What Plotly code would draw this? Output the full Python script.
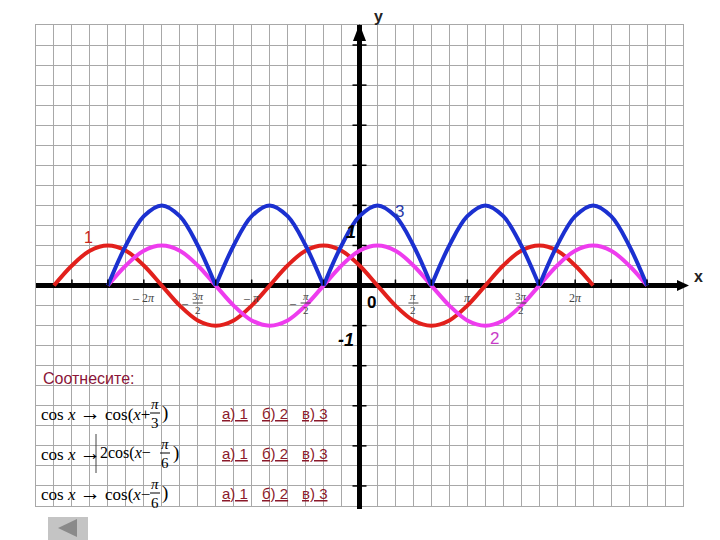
import plotly.graph_objects as go

# x positions in units of pi/6
red_x = [-17, -16, -15, -14, -13, -12, -11, -10, -9, -8, -7, -6, -5, -4, -3, -2,
         -1, 0, 1, 2, 3, 4, 5, 6, 7, 8, 9, 10, 11, 12, 13]
red_y = [0, 0.5, 0.87, 1, 0.87, 0.5, 0, -0.5, -0.87, -1, -0.87, -0.5,
         0, 0.5, 0.87, 1, 0.87, 0.5, 0, -0.5, -0.87, -1, -0.87, -0.5,
         0, 0.5, 0.87, 1, 0.87, 0.5, 0]

mag_x = [-14, -13, -12, -11, -10, -9, -8, -7, -6, -5, -4, -3, -2, -1, 0, 1,
         2, 3, 4, 5, 6, 7, 8, 9, 10, 11, 12, 13, 14, 15, 16]
mag_y = [0, 0.5, 0.87, 1, 0.87, 0.5, 0, -0.5, -0.87, -1, -0.87, -0.5,
         0, 0.5, 0.87, 1, 0.87, 0.5, 0, -0.5, -0.87, -1, -0.87, -0.5,
         0, 0.5, 0.87, 1, 0.87, 0.5, 0]

blue_x = mag_x
blue_y = [0, 1, 1.73, 2, 1.73, 1, 0, 1, 1.73, 2, 1.73, 1,
          0, 1, 1.73, 2, 1.73, 1, 0, 1, 1.73, 2, 1.73, 1,
          0, 1, 1.73, 2, 1.73, 1, 0]

# axis tick labels: (position, minus, numerator, denominator)
xlabels = [(-12, True, "2<i>π</i>", None), (-9, True, "3<i>π</i>", "2"),
           (-6, True, "<i>π</i>", None), (-3, True, "<i>π</i>", "2"),
           (3, False, "<i>π</i>", "2"), (6, False, "<i>π</i>", None),
           (9, False, "3<i>π</i>", "2"), (12, False, "2<i>π</i>", None)]
xticks = [-16, -14, -12, -10, -8, -6, -4, -2, 2, 4, 6, 8, 10, 12, 14, 16]
yticks = [-5, -4, -3, -2, -1, 1, 2, 3, 4, 5, 6]

options = ["а) 1", "б) 2", "в) 3"]

W, H = 720, 540
OFF = 8  # page body margin of the html
GX0, GX1, GY0, GY1 = 36, 683, 25, 506  # grid box in window pixels
PW, PH = GX1 - GX0, GY1 - GY0
XMIN, XMAX, YMIN, YMAX = -18, 18, -5.5, 6.5


def fx(px):
    return (px - GX0) / PW


def fy(py):
    return (GY1 - py) / PH


def dpx(u):
    return GX0 + PW * (u - XMIN) / (XMAX - XMIN)


def dpy(v):
    return GY1 - PH * (v - YMIN) / (YMAX - YMIN)


fig = go.Figure()

fig.add_trace(go.Scatter(x=red_x, y=red_y, mode="lines", hoverinfo="skip",
                         line=dict(color="#e2201c", width=4, shape="spline")))
fig.add_trace(go.Scatter(x=mag_x, y=mag_y, mode="lines", hoverinfo="skip",
                         line=dict(color="#ee3cee", width=4, shape="spline")))

# |2cos| arches: split at the zeros so the cusps stay sharp
seg_x, seg_y = [], []
for i, (xv, yv) in enumerate(zip(blue_x, blue_y)):
    seg_x.append(xv)
    seg_y.append(yv)
    if yv == 0 and 0 < i < len(blue_x) - 1:
        seg_x += [None, xv]
        seg_y += [None, yv]
fig.add_trace(go.Scatter(x=seg_x, y=seg_y, mode="lines", hoverinfo="skip",
                         line=dict(color="#1b30d0", width=4, shape="spline")))

shapes = []
x0, y0 = dpx(0), dpy(0)

# arrow heads
shapes.append(dict(type="path", xref="paper", yref="paper", fillcolor="black", line_width=0,
                   path=f"M {fx(x0-6.5)} {fy(41)} L {fx(x0)} {fy(24)} L {fx(x0+6.5)} {fy(41)} Z"))
shapes.append(dict(type="path", xref="paper", yref="paper", fillcolor="black", line_width=0,
                   path=f"M {fx(677)} {fy(y0-5.5)} L {fx(689)} {fy(y0)} L {fx(677)} {fy(y0+5.5)} Z"))
# lower end of the y axis
shapes.append(dict(type="line", xref="paper", yref="paper", x0=fx(x0), x1=fx(x0),
                   y0=fy(GY1 - 1), y1=fy(GY1 + 3), line=dict(color="black", width=5)))

for u in xticks:
    shapes.append(dict(type="line", xref="paper", yref="paper", x0=fx(dpx(u)), x1=fx(dpx(u)),
                       y0=fy(y0), y1=fy(y0 - 6), line=dict(color="black", width=1.5)))
for v in yticks:
    shapes.append(dict(type="line", xref="paper", yref="paper", x0=fx(x0 - 7), x1=fx(x0 + 7),
                       y0=fy(dpy(v)), y1=fy(dpy(v)), line=dict(color="black", width=1.5)))


def text(s, x, y, size, color="black", family="Liberation Sans", xanchor="center"):
    fig.add_annotation(text=s, x=fx(x), y=fy(y), xref="paper", yref="paper",
                       showarrow=False, xanchor=xanchor, yanchor="middle",
                       font=dict(size=size, color=color, family=family))


def frac(num, den, cx, cy, size, color="black", bar=10):
    text(num, cx, cy - 9 * size / 15, size, color, "Liberation Serif")
    text(den, cx, cy + 10 * size / 15, size, color, "Liberation Serif")
    shapes.append(dict(type="line", xref="paper", yref="paper",
                       x0=fx(cx - bar / 2), x1=fx(cx + bar / 2), y0=fy(cy), y1=fy(cy),
                       line=dict(color=color, width=1)))


# x tick labels
for u, minus, num, den in xlabels:
    cx = dpx(u)
    if den is None:
        s = ("– " if minus else "") + num
        text(s, cx, 298, 12, "#444444", "Liberation Serif")
    else:
        frac(num, den, cx, 303, 11, "#444444", 10)
        if minus:
            text("–", cx - 13, 303, 12, "#444444", "Liberation Serif")

# axis labels
text("<b>y</b>", x0 + 19, 16, 16, "#222222")
text("<b>x</b>", 698, 276, 16, "#222222")
text("<b><i>1</i></b>", x0 - 9, 232, 18)
text("<b><i>-1</i></b>", x0 - 14, 340, 18)
text("<b>0</b>", x0 + 12, 303, 17)

# curve labels
text("1", 88, 238, 16, "#c8281e")
text("3", 400, 211, 17, "#2a3aa8")
text("2", 494, 338, 17, "#c83cc8")

# task block
text("Соотнесите:", 41, 378, 16, "#8a1538", xanchor="left")

ARROW = '<span style="font-size:21px">→</span>'
text(f"cos <i>x</i> {ARROW} cos(<i>x</i>+", 39, 413, 17, family="Liberation Serif", xanchor="left")
frac("<i>π</i>", "3", 155, 413, 15)
text(")", 160, 413, 19, family="Liberation Serif", xanchor="left")

text(f"cos <i>x</i> {ARROW}", 39, 453, 17, family="Liberation Serif", xanchor="left")
shapes.append(dict(type="line", xref="paper", yref="paper", x0=fx(96), x1=fx(96),
                   y0=fy(434), y1=fy(473), line=dict(color="#444444", width=1)))
text("2cos(<i>x</i>−", 98, 453, 16, family="Liberation Serif", xanchor="left")
frac("<i>π</i>", "6", 165, 453, 15)
text(")", 171, 453, 19, family="Liberation Serif", xanchor="left")

text(f"cos <i>x</i> {ARROW} cos(<i>x</i>−", 39, 493, 17, family="Liberation Serif", xanchor="left")
frac("<i>π</i>", "6", 155, 493, 15)
text(")", 160, 493, 19, family="Liberation Serif", xanchor="left")

for row_y in [413, 453, 493]:
    for opt, ox in zip(options, [220, 260, 300]):
        text(f"<u>{opt}</u>", ox, row_y, 15, "#8b1a2b", xanchor="left")

# back button
shapes.append(dict(type="rect", xref="paper", yref="paper", x0=fx(48), x1=fx(88),
                   y0=fy(517), y1=fy(541), fillcolor="#c4c4c4", line_width=0))
shapes.append(dict(type="path", xref="paper", yref="paper", fillcolor="#8a8a8a", line_width=0,
                   path=f"M {fx(58)} {fy(528)} L {fx(77)} {fy(519)} L {fx(77)} {fy(537)} Z"))

fig.update_layout(
    width=W, height=H,
    margin=dict(l=GX0 - OFF, r=W - (GX1 - OFF), t=GY0 - OFF, b=H - (GY1 - OFF), pad=0),
    paper_bgcolor="white", plot_bgcolor="white",
    showlegend=False,
    shapes=shapes,
)
fig.update_xaxes(range=[XMIN, XMAX], dtick=1, tick0=0, showgrid=True, gridcolor="#a8a8a8",
                 gridwidth=1, showticklabels=False, ticks="", zeroline=True,
                 zerolinecolor="black", zerolinewidth=5, showline=True, linecolor="#a8a8a8",
                 linewidth=1, mirror=True, fixedrange=True)
fig.update_yaxes(range=[YMIN, YMAX], dtick=0.5, tick0=0, showgrid=True, gridcolor="#a8a8a8",
                 gridwidth=1, showticklabels=False, ticks="", zeroline=True,
                 zerolinecolor="black", zerolinewidth=4.5, showline=True, linecolor="#a8a8a8",
                 linewidth=1, mirror=True, fixedrange=True)

fig.write_html("out.html")
